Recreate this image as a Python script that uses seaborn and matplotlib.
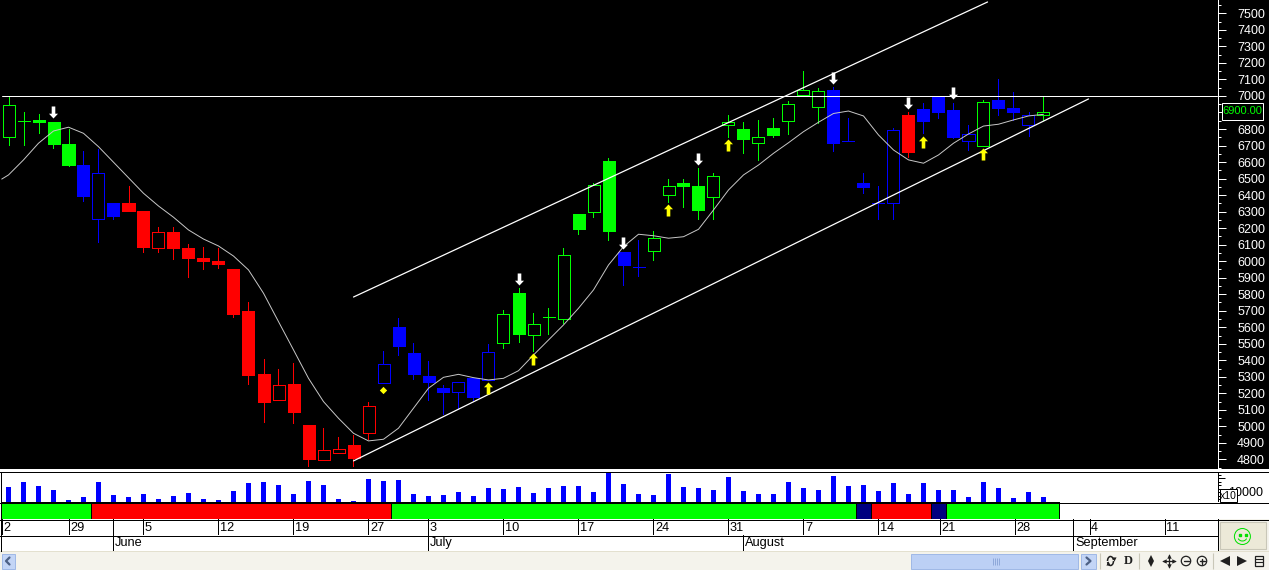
import matplotlib
matplotlib.use("Agg")
import matplotlib.pyplot as plt
from matplotlib.patches import Circle, Arc, Rectangle
from matplotlib.path import Path
import seaborn as sns

W, H = 1269, 570

# candles: body top/bottom, wick high/low
body_top = [6944, 6847, 6855, 6843, 6709, 6582, 6532, 6352, 6352, 6304,
            6175, 6177, 6080, 6019, 6001, 5953, 5699, 5317, 5249, 5257,
            5009, 4855, 4861, 4887, 5122, 5376, 5602, 5444, 5305, 5233,
            5267, 5291, 5449, 5679, 5808, 5618, 5660, 6036, 6286, 6459,
            6607, 6056, 5967, 6139, 6453, 6473, 6455, 6514, 6843, 6800,
            6750, 6806, 6950, 7036, 7030, 7036, 6729, 6471, 6354, 6792,
            6885, 6919, 7000, 6915, 6768, 6962, 6976, 6927, 6883, 6901]
body_bot = [6750, 6847, 6843, 6711, 6582, 6397, 6254, 6276, 6306, 6088,
            6082, 6082, 6021, 6001, 5985, 5682, 5311, 5150, 5162, 5089,
            4805, 4798, 4837, 4811, 4958, 5265, 5489, 5319, 5271, 5210,
            5207, 5180, 5281, 5507, 5561, 5555, 5660, 5652, 6197, 6300,
            6185, 5979, 5967, 6064, 6403, 6455, 6312, 6390, 6826, 6742,
            6717, 6766, 6850, 7008, 6935, 6714, 6729, 6449, 6354, 6350,
            6663, 6849, 6905, 6754, 6729, 6699, 6929, 6905, 6823, 6883]
high = [7000, 6901, 6891, 6843, 6798, 6667, 6677, 6352, 6455, 6304,
        6207, 6207, 6106, 6086, 6082, 5953, 5753, 5408, 5348, 5384,
        5009, 4989, 4934, 4948, 5148, 5456, 5656, 5505, 5396, 5249,
        5267, 5291, 5499, 5705, 5838, 5686, 5717, 6078, 6286, 6472,
        6623, 6056, 6128, 6183, 6498, 6498, 6564, 6532, 6885, 6843,
        6855, 6867, 6970, 7151, 7048, 7053, 6865, 6532, 6455, 6804,
        6903, 6956, 7000, 6960, 6823, 6976, 7103, 7024, 6901, 7000]
low = [6705, 6705, 6778, 6687, 6576, 6366, 6118, 6257, 6306, 6057,
       6057, 6015, 5906, 5955, 5961, 5664, 5259, 5029, 5162, 5022,
       4762, 4798, 4837, 4762, 4924, 5265, 5432, 5289, 5162, 5077,
       5104, 5160, 5281, 5477, 5513, 5456, 5561, 5628, 6167, 6270,
       6128, 5856, 5910, 6007, 6358, 6330, 6256, 6256, 6752, 6655,
       6613, 6752, 6770, 7008, 6838, 6667, 6729, 6411, 6254, 6258,
       6633, 6774, 6869, 6748, 6675, 6699, 6885, 6855, 6758, 6855]
# g green, b blue, r red
colour_codes = ("gggggbbb" "rrrrrrrrrrrrrrrrr" "bbbbbbbb" "gggggggg" "bb"
                "gggggggggggg" "bbbbb" "r" "bbbb" "g" "bbb" "g")
# 1 means a hollow body
hollow = [1, 1, 0, 0, 0, 0, 1, 0, 0, 0,
          1, 0, 0, 0, 0, 0, 0, 0, 1, 0,
          0, 1, 1, 0, 1, 1, 0, 0, 0, 0,
          1, 0, 1, 1, 0, 1, 0, 1, 0, 1,
          0, 0, 0, 1, 1, 0, 0, 1, 1, 0,
          1, 0, 1, 1, 1, 0, 0, 0, 0, 1,
          0, 0, 0, 0, 1, 1, 0, 0, 1, 1]

ma_index = [-0.45] + list(range(70))
ma_values = [6497, 6522, 6613, 6714, 6788, 6811, 6774, 6693, 6599, 6505, 6411,
             6334, 6266, 6189, 6134, 6092, 6031, 5947, 5806, 5634, 5463,
             5291, 5150, 5049, 4958, 4912, 4922, 4989, 5110, 5231, 5297,
             5315, 5295, 5281, 5291, 5337, 5432, 5523, 5614, 5715, 5826,
             5977, 6088, 6163, 6154, 6139, 6148, 6193, 6310, 6431, 6522,
             6582, 6653, 6717, 6784, 6841, 6894, 6909, 6879, 6764, 6673,
             6613, 6593, 6643, 6714, 6770, 6818, 6829, 6855, 6879, 6889]

volume = [15000, 20000, 16000, 12000, 2300, 5000, 20000, 7000, 5000, 8000,
          3000, 6000, 9000, 3000, 2300, 11000, 19000, 20000, 17000, 8000,
          21000, 17000, 3000, 1000, 23000, 21000, 22000, 8000, 6000, 7000,
          10000, 6000, 14000, 13000, 15000, 9000, 14000, 16000, 16000, 10000,
          29300, 18000, 8000, 7000, 28000, 15000, 14000, 12000, 25000, 11000,
          8000, 8000, 20000, 14000, 12000, 26000, 16000, 17000, 11000, 19000,
          8000, 19000, 12000, 12000, 5000, 20000, 14000, 4000, 10000, 5000]

upper_index = [23, 65.27]
upper_price = [5783, 7569]
lower_index = [23, 72]
lower_price = [4791, 6982]
level_index = [-0.43, 80.6]
level_price = [7000, 7000]

white_arrow_index = [3, 34, 41, 46, 55, 60, 63]
white_arrow_price = [6903, 5892, 6110, 6618, 7109, 6957, 7018]
yellow_arrow_index = [32, 35, 44, 48, 61, 65]
yellow_arrow_price = [5233, 5408, 6310, 6704, 6724, 6651]
diamond_index = [25]
diamond_price = [5220]

price_ticks = list(range(4800, 7501, 100))
price_minor = list(range(4750, 7551, 100))
last_price = "6900.00"

segment_start = [-0.5, 5.5, 25.5, 56.5, 57.5, 61.5, 62.5]
segment_end = [5.5, 25.5, 56.5, 57.5, 61.5, 62.5, 70]
segment_colour = ["#00ff00", "#ff0000", "#00ff00", "#000080", "#ff0000", "#000080", "#00ff00"]

date_index = [-0.42, 4, 9, 14, 19, 24, 28, 33, 38, 43, 48, 53, 58, 62.07, 67.07, 72.07, 77.07]
date_labels = ["2", "29", "5", "12", "19", "27", "3", "10", "17", "24", "31", "7", "14", "21", "28", "4", "11"]
month_index = [7, 28, 49, 71]
month_labels = ["June", "July", "August", "September"]

colours = {"g": "#00ff00", "b": "#0000ff", "r": "#ff0000"}

sns.set_theme(style="dark")
plt.rcParams["font.family"] = ["Liberation Sans", "DejaVu Sans"]
FONT = 9
PX = 0.72  # one pixel line


def px_axes(x0, y0, x1, y1):
    return fig.add_axes([x0 / W, 1 - y1 / H, (x1 - x0) / W, (y1 - y0) / H])


def to_index(px):
    return (px - 8.5) / 15


fig = plt.figure(figsize=(W / 100, H / 100), dpi=100, facecolor="#f4f3ec")

# white backing behind the lower panels, black behind the price panel
lower_back = px_axes(0, 469, W, 502.3)
lower_back.set_facecolor("white")
black_back = px_axes(0, 0, W, 468.7)
black_back.set_facecolor("black")
for a in (lower_back, black_back):
    a.set_xticks([])
    a.set_yticks([])
    for s in a.spines.values():
        s.set_visible(False)

# main price panel
ax = px_axes(0, 0, 1218, 468)
ax.set_facecolor("black")
ax.set_xlim(to_index(0), to_index(1218))
ax.set_ylim(4748, 7581)

bar_colours = [colours[c] for c in colour_codes]
idx = list(range(len(body_top)))
ax.vlines(idx, low, high, colors=bar_colours, lw=PX, zorder=2, antialiased=False)
for i in idx:
    face = "black" if hollow[i] else bar_colours[i]
    ax.bar(i, body_top[i] - body_bot[i], bottom=body_bot[i], width=0.8, color=face,
           edgecolor=bar_colours[i], linewidth=PX, zorder=3, antialiased=False)

sns.lineplot(x=level_index, y=level_price, ax=ax, color="white", lw=PX, zorder=4, estimator=None)
sns.lineplot(x=upper_index, y=upper_price, ax=ax, color="white", lw=0.9, zorder=4, estimator=None)
sns.lineplot(x=lower_index, y=lower_price, ax=ax, color="white", lw=0.9, zorder=4, estimator=None)
sns.lineplot(x=ma_index, y=ma_values, ax=ax, color="#c8c8c8", lw=0.7, zorder=5, estimator=None)

down_arrow = Path([(-0.3, 1), (0.3, 1), (0.3, -0.2), (0.75, -0.2), (0, -1), (-0.75, -0.2), (-0.3, -0.2), (-0.3, 1)], closed=True)
up_arrow = Path([(-0.3, -1), (0.3, -1), (0.3, 0.2), (0.75, 0.2), (0, 1), (-0.75, 0.2), (-0.3, 0.2), (-0.3, -1)], closed=True)
sns.scatterplot(x=white_arrow_index, y=white_arrow_price, ax=ax, marker=down_arrow, s=75,
                color="white", linewidth=0, zorder=6, legend=False)
sns.scatterplot(x=yellow_arrow_index, y=yellow_arrow_price, ax=ax, marker=up_arrow, s=75,
                color="#ffff00", linewidth=0, zorder=6, legend=False)
sns.scatterplot(x=diamond_index, y=diamond_price, ax=ax, marker="D", s=14,
                color="#ffff00", linewidth=0, zorder=6, legend=False)

ax.grid(False)
ax.set_xticks([])
ax.yaxis.tick_right()
ax.set_yticks(price_ticks)
ax.set_yticks(price_minor, minor=True)
# the 6900 label sits under the last price box
ax.set_yticklabels(["" if v == 6900 else str(v) for v in price_ticks], color="white", fontsize=FONT)
ax.tick_params(axis="y", which="major", length=5.8, width=PX, colors="white", pad=8, right=True)
ax.tick_params(axis="y", which="minor", length=2.2, width=PX, colors="white", right=True)
for name, s in ax.spines.items():
    s.set_visible(name == "right")
s = ax.spines["right"]
s.set_color("white")
s.set_linewidth(PX)

# volume panel
vol_ax = px_axes(0, 472, 1218, 502.3)
vol_ax.patch.set_alpha(0)
sns.barplot(x=idx, y=volume, ax=vol_ax, native_scale=True, color="#0000ff", saturation=1,
            width=0.27, edgecolor="#0000ff", linewidth=0)
vol_ax.set_xlim(to_index(0), to_index(1218))
vol_ax.set_ylim(0, 30300)
vol_ax.set_xticks([])
vol_ax.set_xlabel("")
vol_ax.grid(False)
vol_ax.yaxis.tick_right()
vol_ax.set_yticks([10000, 24000])
vol_ax.set_yticks([3000, 6500, 13500, 17000, 20500, 27500], minor=True)
vol_ax.set_yticklabels(["", ""])
vol_ax.tick_params(axis="y", which="major", length=5, width=PX, color="black", right=True)
vol_ax.tick_params(axis="y", which="minor", length=2.2, width=PX, color="black", right=True)
for name, s in vol_ax.spines.items():
    s.set_visible(name == "right")
    s.set_color("black")
    s.set_linewidth(PX)

# trend state strip
state_ax = px_axes(0, 502.3, W, 519.3)
state_ax.set_facecolor("white")
state_ax.set_xlim(to_index(0), to_index(W))
state_ax.set_ylim(0, 1)
for start, end, col in zip(segment_start, segment_end, segment_colour):
    state_ax.bar(start, 1, width=end - start, bottom=0, align="edge", color=col,
                 edgecolor="black", linewidth=PX, antialiased=False)
state_ax.set_xticks([])
state_ax.set_yticks([])
state_ax.grid(False)
for s in state_ax.spines.values():
    s.set_visible(False)

# date and month strips
strips = [((0, 519.3, 1218, 535), date_index + [7, 71], date_labels + ["", ""]),
          ((0, 535, 1218, 551), month_index, month_labels)]
for rect, positions, labels in strips:
    strip = px_axes(*rect)
    strip.set_facecolor("white")
    strip.set_xlim(to_index(0), to_index(1218))
    strip.set_ylim(0, 1)
    strip.vlines(positions, 0, 1, colors="black", lw=PX, antialiased=False)
    for p, lab in zip(positions, labels):
        strip.text(p + 0.1, 0.47, lab, ha="left", va="center", fontsize=9.2, color="black")
    strip.set_xticks([])
    strip.set_yticks([])
    strip.grid(False)
    for name, s in strip.spines.items():
        s.set_visible(name == "right")
        s.set_color("black")
        s.set_linewidth(PX)

# window chrome, drawn in pixel coordinates
ui = fig.add_axes([0, 0, 1, 1], zorder=20)
ui.set_xlim(0, W)
ui.set_ylim(H, 0)
ui.axis("off")
ui.patch.set_alpha(0)

ui.hlines([472, 502.5, 519.5], 0, W, colors="black", lw=PX, antialiased=False)
ui.hlines(535.5, 0, 1218, colors="black", lw=PX, antialiased=False)
ui.vlines(0.8, 472, 551, colors="black", lw=PX, antialiased=False)

ui.text(1262.7, 492.5, "10000", ha="right", va="center", fontsize=FONT, color="black", zorder=0.5)
ui.add_patch(Rectangle((1220, 489.3), 17.3, 13, fc="white", ec="black", lw=PX, zorder=1))
ui.text(1228.7, 496, "x10", ha="center", va="center", fontsize=7.5, color="black", zorder=3)

ui.add_patch(Rectangle((1218.5, 520), W - 1218.5, 31.5, fc="#f4f3ec", ec="none"))
ui.add_patch(Rectangle((1219.5, 521.5), 46, 27, fc="#ece9d8", ec="#c9c7b8", lw=0.8))
ui.add_patch(Circle((1242.4, 536.5), 8, fc="none", ec="#00e000", lw=PX))
ui.plot([1239.5, 1245.5], [534.5, 534.5], ls="none", marker="s", ms=1.5, color="#00e000")
ui.add_patch(Arc((1242.4, 537), 9, 8, theta1=20, theta2=160, ec="#00e000", lw=PX))

ui.add_patch(Rectangle((0, 551), W, 1.3, fc="#e3e0cf", ec="none"))
ui.add_patch(Rectangle((1.5, 554), 13.5, 14.5, fc="#c3d5f6", ec="#9fb8e6", lw=0.7))
ui.plot([9.5, 6, 9.5], [557.5, 561, 564.5], color="#4d6185", lw=1.6)
ui.add_patch(Rectangle((911, 554), 167, 14.5, fc="#bcd0f5", ec="#9fb8e6", lw=0.7))
ui.vlines([992.5, 994.5, 996.5, 998.5], 558, 565, colors="#8ea8da", lw=0.7)
ui.add_patch(Rectangle((1081, 554), 15, 14.5, fc="#c3d5f6", ec="#9fb8e6", lw=0.7))
ui.plot([1086.5, 1090.5, 1086.5], [557.5, 561, 564.5], color="#4d6185", lw=1.6)

ui.vlines([1100, 1139, 1213], 553, 569, colors="#c9c7b8", lw=0.8)
ic = "#202020"
ui.add_patch(Arc((1110.5, 561), 6, 9, theta1=180, theta2=340, ec=ic, lw=1.1))
ui.add_patch(Arc((1110.5, 561), 6, 9, theta1=0, theta2=160, ec=ic, lw=1.1))
ui.plot([1113.5], [559], marker="v", ms=3, color=ic, mew=0)
ui.plot([1107.5], [563], marker="^", ms=3, color=ic, mew=0)
ui.text(1128, 561, "D", ha="center", va="center", fontsize=9, color=ic, family="Liberation Serif", weight="bold")
ui.plot([1151], [557.7], marker="^", ms=4.5, color=ic, mew=0)
ui.plot([1151], [564.3], marker="v", ms=4.5, color=ic, mew=0)
ui.plot([1151, 1151], [558, 564], color=ic, lw=1.2)
ui.plot([1162.5, 1175], [561, 561], color=ic, lw=0.9)
ui.plot([1168.7, 1168.7], [555, 567], color=ic, lw=0.9)
ui.plot([1168.7], [556], marker="^", ms=3.2, color=ic, mew=0)
ui.plot([1168.7], [566], marker="v", ms=3.2, color=ic, mew=0)
ui.plot([1163.5], [561], marker="<", ms=3.2, color=ic, mew=0)
ui.plot([1174], [561], marker=">", ms=3.2, color=ic, mew=0)
for cx in (1186, 1202):
    ui.add_patch(Circle((cx, 561), 4.7, fc="none", ec=ic, lw=0.9))
    ui.plot([cx - 2.5, cx + 2.5], [561, 561], color=ic, lw=1)
ui.plot([1202, 1202], [558.5, 563.5], color=ic, lw=1)
ui.plot([1225], [561], marker="<", ms=7, color=ic, mew=0)
ui.plot([1242], [561], marker=">", ms=7, color=ic, mew=0)
ui.add_patch(Rectangle((1255, 556), 8, 10, fc="none", ec=ic, lw=0.9))
ui.hlines([559, 562], 1255, 1263, colors=ic, lw=0.8)

# last price box
ui.add_patch(Rectangle((1222, 103), 41.3, 16.5, fc="black", ec="white", lw=PX))
ui.text(1242.6, 111.3, last_price, ha="center", va="center", fontsize=8, color="#00ff00")

fig.savefig("out.png", dpi=100, facecolor=fig.get_facecolor())
